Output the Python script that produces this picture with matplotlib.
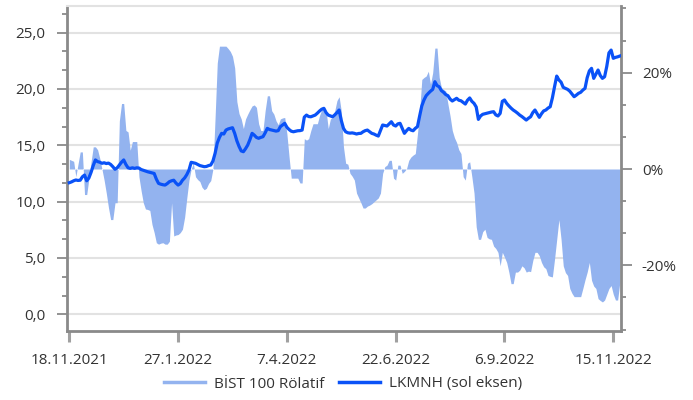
import matplotlib
matplotlib.use("Agg")
import matplotlib.pyplot as plt
from matplotlib.ticker import MultipleLocator, FixedLocator, FuncFormatter
from matplotlib.lines import Line2D
import numpy as np

plt.rcParams['font.family'] = ['Open Sans', 'DejaVu Sans']

# ---------------- data ----------------
tick_labels = ["18.11.2021", "27.1.2022", "7.4.2022", "22.6.2022", "6.9.2022", "15.11.2022"]
tick_step = 50  # trading days between labels

# LKMNH price (left axis)
lkmnh = [
    11.68, 11.75, 11.85, 11.92, 11.88, 11.90, 12.20, 12.36, 11.85, 12.10,
    12.60, 13.20, 13.70, 13.55, 13.50, 13.40, 13.45, 13.38, 13.42, 13.30,
    13.10, 12.87, 13.00, 13.25, 13.50, 13.70, 13.30, 13.00, 12.95, 13.00,
    12.95, 13.00, 12.98, 12.85, 12.78, 12.72, 12.65, 12.60, 12.56, 12.50,
    12.00, 11.62, 11.55, 11.50, 11.47, 11.60, 11.77, 11.85, 11.90, 11.65,
    11.47, 11.60, 11.90, 12.10, 12.40, 12.80, 13.49, 13.45, 13.40, 13.30,
    13.20, 13.15, 13.10, 13.12, 13.20, 13.25, 13.60, 14.29, 15.20, 15.70,
    16.06, 16.00, 16.35, 16.45, 16.50, 16.56, 16.06, 15.40, 14.90, 14.50,
    14.43, 14.70, 15.02, 15.50, 16.06, 15.90, 15.70, 15.62, 15.70, 15.76,
    16.10, 16.50, 16.40, 16.35, 16.30, 16.26, 16.30, 16.65, 16.80, 16.95,
    16.60, 16.40, 16.25, 16.20, 16.25, 16.29, 16.30, 16.35, 17.50, 17.68,
    17.55, 17.53, 17.60, 17.68, 17.85, 18.04, 18.20, 18.28, 17.90, 17.68,
    17.60, 17.53, 17.70, 17.90, 18.13, 17.20, 16.50, 16.20, 16.11, 16.08,
    16.10, 16.06, 16.00, 16.05, 16.06, 16.20, 16.30, 16.35, 16.20, 16.06,
    16.00, 15.90, 15.82, 16.30, 16.80, 16.75, 16.71, 16.90, 17.09, 16.80,
    16.71, 16.90, 16.95, 16.50, 16.06, 16.30, 16.50, 16.35, 16.29, 16.50,
    16.65, 17.60, 18.50, 19.02, 19.40, 19.61, 19.80, 19.96, 20.64, 20.30,
    20.19, 19.85, 19.70, 19.50, 19.40, 19.10, 18.93, 19.05, 19.17, 19.00,
    18.95, 18.80, 18.66, 19.00, 19.20, 18.90, 18.72, 18.40, 17.30, 17.60,
    17.75, 17.80, 17.85, 17.90, 17.95, 17.98, 17.70, 17.60, 17.83, 18.90,
    19.02, 18.72, 18.50, 18.30, 18.13, 18.00, 17.85, 17.68, 17.55, 17.40,
    17.24, 17.40, 17.53, 17.90, 18.13, 17.80, 17.48, 17.80, 18.05, 18.13,
    18.30, 18.42, 19.20, 20.20, 21.14, 20.80, 20.60, 20.14, 20.05, 19.96,
    19.80, 19.55, 19.31, 19.45, 19.61, 19.70, 19.90, 20.05, 21.00, 21.60,
    21.83, 20.94, 21.30, 21.68, 21.20, 20.94, 21.08, 22.00, 23.20, 23.45,
    22.72, 22.80, 22.85, 22.92,
]

# BIST 100 relative performance, % (right axis)
bist_rel = [
    2.0, 1.8, 1.6, -1.6, 1.0, 3.55, 3.55, -5.3, -5.3, -2.0,
    1.5, 4.6, 4.6, 4.0, 2.2, 0.0, -2.3, -5.0, -8.0, -10.5,
    -10.5, -7.0, -7.0, 10.0, 13.6, 13.6, 8.0, 7.7, 3.9, 5.7,
    5.7, 5.7, -1.6, -4.5, -7.0, -8.3, -8.4, -8.6, -11.5, -13.2,
    -15.3, -15.6, -15.4, -15.3, -15.6, -15.6, -15.0, -7.0, -13.9, -13.7,
    -13.6, -13.2, -12.5, -10.0, -6.0, -2.3, 0.0, 1.2, -1.6, -2.2,
    -2.6, -3.8, -4.3, -4.0, -3.0, -2.4, 0.0, 10.7, 22.0, 25.5,
    25.5, 25.5, 25.5, 25.0, 24.4, 23.4, 21.0, 14.0, 11.5, 10.4,
    8.4, 10.4, 11.4, 12.3, 13.1, 13.3, 12.8, 9.4, 8.0, 8.0,
    12.1, 15.2, 15.2, 12.1, 11.4, 10.0, 9.2, 10.4, 10.6, 10.7,
    7.3, 2.5, -1.9, -1.9, -1.9, -1.9, -2.9, -2.9, 6.3, 6.0,
    6.3, 8.0, 9.4, 9.4, 9.4, 11.1, 12.3, 12.3, 12.1, 8.4,
    10.4, 10.7, 12.1, 14.2, 15.0, 12.0, 4.6, 1.2, 1.0, -0.9,
    -1.5, -2.3, -5.0, -6.0, -7.0, -8.1, -8.1, -7.7, -7.5, -7.2,
    -6.8, -6.4, -6.0, -5.0, -0.9, 0.5, 0.8, 1.8, 1.8, -1.9,
    -2.3, 0.8, 0.8, -0.9, -0.5, 0.1, 1.8, 2.5, 2.9, 3.2,
    7.3, 12.0, 18.6, 19.0, 19.3, 20.3, 17.6, 20.0, 25.1, 25.1,
    19.0, 16.9, 16.5, 16.2, 13.5, 11.0, 8.0, 6.5, 5.5, 4.0,
    3.2, -1.6, -2.3, 1.2, 1.5, -1.6, -5.0, -12.0, -14.6, -14.6,
    -13.0, -12.5, -14.2, -14.5, -14.6, -16.0, -16.5, -17.3, -20.1, -17.3,
    -18.3, -19.4, -21.4, -23.8, -23.8, -21.4, -21.4, -21.0, -20.1, -20.5,
    -21.4, -21.2, -21.3, -19.0, -17.3, -17.3, -18.0, -19.4, -20.3, -20.7,
    -22.1, -22.3, -22.4, -18.7, -14.6, -10.5, -14.6, -20.1, -21.5, -22.1,
    -24.8, -25.8, -26.5, -26.5, -26.5, -26.5, -24.8, -23.0, -21.4, -19.4,
    -23.1, -24.3, -24.8, -26.9, -27.3, -27.6, -27.2, -26.0, -24.8, -24.2,
    -26.0, -27.2, -27.2, -23.5,
]

series_names = ["BİST 100 Rölatif", "LKMNH (sol eksen)"]

# ---------------- style ----------------
FILL_C = "#93b3ef"
LINE_C = "#0a52f7"
GRID_C = "#e2e2e2"
AX_C = "#8a8a8a"
TXT_C = "#333333"

x = np.arange(len(lkmnh))

fig = plt.figure(figsize=(6.93, 4.0), dpi=100)
ax = fig.add_axes([67/693, 1-331/400, (621-67)/693, (331-6)/400])
ax_fill = ax.twinx()
ax_line = ax.twinx()

# base axis: left scale + grid
ax.set_xlim(-1.06, len(lkmnh) - 0.46)
ax.set_ylim(-1.48, 27.36)
ax.yaxis.set_major_locator(MultipleLocator(5))
ax.yaxis.set_minor_locator(MultipleLocator(5/3))
ax.yaxis.set_major_formatter(FuncFormatter(lambda v, p: f"{v:.1f}".replace(".", ",")))
ax.grid(axis="y", color=GRID_C, linewidth=1.5)
ax.set_axisbelow(True)
ax.xaxis.set_major_locator(FixedLocator(list(range(0, len(lkmnh), tick_step))))
ax.set_xticklabels(tick_labels[:len(range(0, len(lkmnh), tick_step))])

for a in (ax, ax_fill, ax_line):
    for s in a.spines.values():
        s.set_visible(False)

ax.spines["left"].set_visible(True)
ax.spines["bottom"].set_visible(True)
ax.spines["top"].set_visible(True)
for s in ("left", "bottom"):
    ax.spines[s].set_color(AX_C)
    ax.spines[s].set_linewidth(2.0)
ax.spines["top"].set_color(GRID_C)
ax.spines["top"].set_linewidth(1.5)

ax.tick_params(axis="y", which="major", length=7.5, width=1.3, color=AX_C,
               labelsize=11, labelcolor=TXT_C, pad=8)
ax.tick_params(axis="y", which="minor", length=3.6, width=1.3, color=AX_C)
ax.tick_params(axis="x", which="major", length=8, width=2.2, color="#a0a0a0",
               labelsize=11, labelcolor=TXT_C, pad=8)

# fill axis: right scale
ax_fill.fill_between(x, 0, bist_rel, color=FILL_C, linewidth=0)
ax_fill.set_ylim(-33.63, 33.84)
ax_fill.yaxis.set_major_locator(FixedLocator([-20, 0, 20]))
ax_fill.yaxis.set_minor_locator(MultipleLocator(20/3))
ax_fill.yaxis.set_major_formatter(FuncFormatter(lambda v, p: f"{v:.0f}%".replace("\u2212", "-")))
ax_fill.spines["right"].set_visible(True)
ax_fill.spines["right"].set_color(AX_C)
ax_fill.spines["right"].set_linewidth(2.0)
ax_fill.tick_params(axis="y", which="major", length=8, width=1.3, color=AX_C,
                    labelsize=11, labelcolor=TXT_C, pad=7)
ax_fill.tick_params(axis="y", which="minor", length=3.6, width=1.3, color=AX_C)

# line axis: left scale (hidden ticks)
ax_line.plot(x, lkmnh, color=LINE_C, linewidth=2.3, solid_joinstyle="round")
ax_line.set_ylim(ax.get_ylim())
ax_line.set_xlim(ax.get_xlim())
ax_line.set_yticks([])

handles = [Line2D([], [], color=FILL_C, linewidth=2.5),
           Line2D([], [], color=LINE_C, linewidth=2.5)]
fig.legend(handles, series_names, loc="center", bbox_to_anchor=(0.495, 0.04),
           ncol=2, frameon=False, fontsize=11, handlelength=2.7,
           handletextpad=0.6, columnspacing=0.9, labelcolor=TXT_C)

fig.savefig("out.png", dpi=100)
